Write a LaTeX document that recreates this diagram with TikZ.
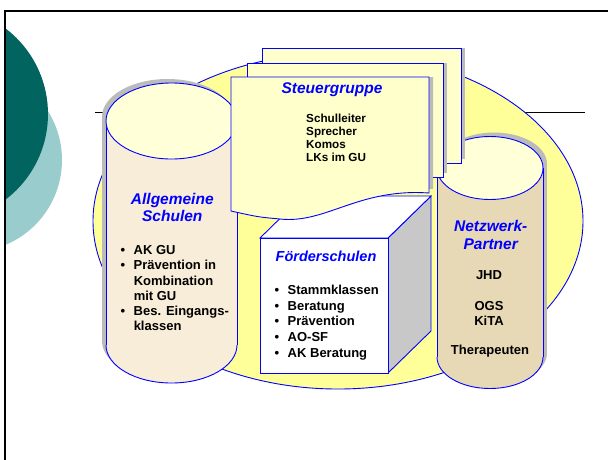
\documentclass[tikz,border=0pt]{standalone}
\usepackage{fontspec}
\setmainfont{Liberation Sans}
\definecolor{dteal}{HTML}{01645F}
\definecolor{lteal}{HTML}{99CCCC}
\definecolor{ellfill}{HTML}{FFFF99}
\definecolor{pagefill}{HTML}{FFFFCC}
\definecolor{topfill}{HTML}{FFFFD8}
\definecolor{bodyL}{HTML}{F8EDD8}
\definecolor{bodyR}{HTML}{E8D9B6}
\definecolor{shadowgrey}{HTML}{BBBBBB}
\definecolor{boxgrey}{HTML}{C8C8C8}
\definecolor{tblue}{HTML}{0000FF}
\tikzset{
  bl/.style={draw=tblue, line width=0.9pt},
  title/.style={anchor=base, inner sep=0pt, text=tblue, font=\fontsize{15.5}{17}\selectfont\bfseries\itshape},
  plain/.style={anchor=base, inner sep=0pt, font=\fontsize{13}{15}\selectfont\bfseries},
  listbox/.style={anchor=north west, inner sep=0pt, align=left},
}
\begin{document}
\begin{tikzpicture}[x=1pt,y=-1pt]
\useasboundingbox (0,0) rectangle (608,459);
% decorative circles
\begin{scope}
  \clip (5,0) rectangle (608,459);
  \fill[lteal] (-30,160) circle (92);
  \fill[dteal] (-59.5,114) circle (107.5);
\end{scope}
% frame
\draw[line width=2pt] (5,460) -- (5,11) -- (609,11);
% horizontal rule
\draw[line width=0.8pt] (95,112) -- (585,112);
% big ellipse
\draw[bl, fill=ellfill] (338,221) ellipse [x radius=245, y radius=168];

% ---------- left cylinder ----------
\fill[shadowgrey] (102,117) rectangle (233,341);
\fill[shadowgrey] (167.5,117) ellipse [x radius=65.5, y radius=38];
\fill[shadowgrey] (167.5,341) ellipse [x radius=65.5, y radius=38];
\fill[bodyL] (106,121) rectangle (237,345);
\fill[bodyL] (171.5,345) ellipse [x radius=65.5, y radius=38];
\draw[bl] (106,121) -- (106,345);
\draw[bl] (237,121) -- (237,345);
\begin{scope}
  \clip (98,345) rectangle (245,400);
  \draw[bl] (171.5,345) ellipse [x radius=65.5, y radius=38];
\end{scope}
\draw[bl, fill=topfill] (171.5,121) ellipse [x radius=65.5, y radius=38];

% ---------- right cylinder ----------
\fill[shadowgrey] (441,164) rectangle (547,353);
\fill[shadowgrey] (494,164) ellipse [x radius=53, y radius=31.5];
\fill[shadowgrey] (494,353) ellipse [x radius=53, y radius=31.5];
\fill[bodyR] (437,168) rectangle (543,357);
\fill[bodyR] (490,357) ellipse [x radius=53, y radius=31.5];
\draw[bl] (437,168) -- (437,357);
\draw[bl] (543,168) -- (543,357);
\begin{scope}
  \clip (430,357) rectangle (550,400);
  \draw[bl] (490,357) ellipse [x radius=53, y radius=31.5];
\end{scope}
\draw[bl, fill=topfill] (490,168) ellipse [x radius=53, y radius=31.5];

% ---------- box ----------
\draw[bl, fill=boxgrey] (388,238) -- (431,196) -- (431,331) -- (388,373) -- cycle;
\draw[bl, fill=white] (260,238) -- (303,196) -- (431,196) -- (388,238) -- cycle;
\draw[bl, fill=white] (260,238) rectangle (388,373);

% ---------- pages ----------
\fill[shadowgrey] (266,48) rectangle (465,159);
\draw[bl, fill=pagefill] (262,48) rectangle (461,163);
\fill[shadowgrey] (251,63) rectangle (447,173);
\draw[bl, fill=pagefill] (247,63) rectangle (443,177);
\fill[shadowgrey] (235,77) -- (433,77) -- (433,189) .. controls (362,184) and (330,220) .. (284,215) .. controls (262,213) .. (235,207) -- cycle;
\draw[bl, fill=pagefill] (231,77) -- (429,77) -- (429,193) .. controls (358,188) and (326,224) .. (280,219) .. controls (258,217) .. (231,211) -- cycle;

% ---------- texts ----------
\node[title] (sg) at (332,93) {Steuergruppe};
\node[listbox, font=\fontsize{11.7}{13.1}\selectfont\bfseries] (sgl) at (306,113.1)
  {\begin{tabular}{@{}l@{}}Schulleiter\\Sprecher\\Komos\\LKs im GU\end{tabular}};

\node[title] (as1) at (172.3,204.3) {Allgemeine};
\node[title] (as2) at (172.3,221.7) {Schulen};
\node[listbox, font=\fontsize{13}{15.2}\selectfont\bfseries] (asl) at (120.5,243.9)
  {\begin{tabular}{@{}l@{\hspace{8.5pt}}l@{}}\textbullet & AK GU\\ \textbullet & Prävention in\\ & Kombination\\ & mit GU\\ \textbullet & Bes. Eingangs-\\ & klassen\end{tabular}};

\node[title, font=\fontsize{14.5}{17}\selectfont\bfseries\itshape] (fs) at (326,261) {Förderschulen};
\node[listbox, font=\fontsize{13}{15.8}\selectfont\bfseries] (fsl) at (274.5,283)
  {\begin{tabular}{@{}l@{\hspace{8.5pt}}l@{}}\textbullet & Stammklassen\\ \textbullet & Beratung\\ \textbullet & Prävention\\ \textbullet & AO-SF\\ \textbullet & AK Beratung\end{tabular}};

\node[title] (np1) at (490.7,231.3) {Netzwerk-};
\node[title] (np2) at (490.7,249) {Partner};
\node[plain] (jhd) at (489,279.3) {JHD};
\node[plain] (ogs) at (489,310) {OGS};
\node[plain] (kita) at (489,325.3) {KiTA};
\node[plain] (ther) at (490,354.3) {Therapeuten};
\end{tikzpicture}
\end{document}
